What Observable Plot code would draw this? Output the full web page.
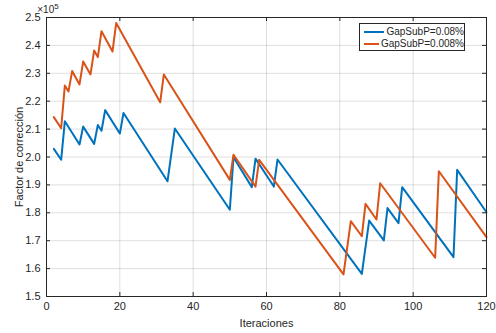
<!DOCTYPE html>
<html>
<head>
<meta charset="utf-8">
<script src="https://cdn.jsdelivr.net/npm/d3@7"></script>
<script src="https://cdn.jsdelivr.net/npm/@observablehq/plot@0.6"></script>
<style>
  html, body { margin: 0; padding: 0; background: #fff; }
  #chart { position: relative; width: 496px; height: 333px; font-family: "Liberation Sans", Arial, sans-serif; }
  #legend {
    position: absolute; left: 359px; top: 23px; width: 104px; height: 26px;
    border: 1px solid #262626; background: #fff; font-size: 10px; color: #262626;
  }
  #legend .row { display: flex; align-items: center; height: 11px; margin-top: 1px; }
  #legend .row:first-child { margin-top: 2px; }
  #legend .sw { width: 22px; height: 2px; margin-left: 4px; margin-right: 2px; }
</style>
</head>
<body>
<div id="chart"></div>
<script>
// Correction factor per iteration for two sub-problem gap tolerances
const iterBlue = [2, 4, 5, 9, 10, 13, 14, 15, 16, 20, 21, 33, 35, 50, 51, 56, 57, 62, 63, 86, 88, 92, 93, 96, 97, 111, 112, 120];
const factorBlue = [202900, 199000, 212800, 204500, 210900, 204700, 211500, 209400, 216800, 208400, 215800, 191300, 210200, 181100, 199900, 189200, 199400, 189400, 199100, 158100, 177200, 170100, 181700, 176300, 189200, 164100, 195400, 180200];

const iterOrange = [2, 4, 5, 6, 7, 9, 10, 12, 13, 14, 15, 18, 19, 31, 32, 50, 51, 57, 58, 81, 83, 86, 87, 90, 91, 106, 107, 120];
const factorOrange = [214300, 210300, 225600, 223500, 230800, 226000, 234200, 229600, 238200, 235800, 245100, 237800, 248000, 219600, 229600, 191800, 200800, 189400, 199000, 157900, 177000, 171600, 183200, 177600, 190600, 163900, 194900, 171300];

const seriesNames = ["GapSubP=0.08%", "GapSubP=0.008%"];
const seriesColors = ["#0072BD", "#D95319"];

const xTicks = [0, 20, 40, 60, 80, 100, 120];
const yTicks = [150000, 160000, 170000, 180000, 190000, 200000, 210000, 220000, 230000, 240000, 250000];

const rows = [
  ...iterBlue.map((it, i) => ({iter: it, factor: factorBlue[i], series: seriesNames[0]})),
  ...iterOrange.map((it, i) => ({iter: it, factor: factorOrange[i], series: seriesNames[1]}))
];

const W = 496, H = 333;
const mTop = 17, mRight = 10, mBottom = 37, mLeft = 46;
const innerH = H - mTop - mBottom;
const innerW = W - mLeft - mRight;
const tickLen = 4;
const axisColor = "#262626";

const chart = Plot.plot({
  width: W,
  height: H,
  marginTop: mTop,
  marginRight: mRight,
  marginBottom: mBottom,
  marginLeft: mLeft,
  style: {fontFamily: "'Liberation Sans', Arial, sans-serif", fontSize: "11px", color: axisColor, background: "#fff"},
  x: {domain: [0, 120]},
  y: {domain: [150000, 250000]},
  color: {domain: seriesNames, range: seriesColors},
  marks: [
    Plot.gridX(xTicks, {stroke: "#000", strokeOpacity: 0.13}),
    Plot.gridY(yTicks, {stroke: "#000", strokeOpacity: 0.13}),
    Plot.lineY(rows, {x: "iter", y: "factor", z: "series", stroke: "series", strokeWidth: 2}),
    // inward tick marks on all four sides
    Plot.tickX(xTicks, {x: d => d, insetTop: innerH - tickLen, stroke: axisColor}),
    Plot.tickX(xTicks, {x: d => d, insetBottom: innerH - tickLen, stroke: axisColor}),
    Plot.tickY(yTicks, {y: d => d, insetRight: innerW - tickLen, stroke: axisColor}),
    Plot.tickY(yTicks, {y: d => d, insetLeft: innerW - tickLen, stroke: axisColor}),
    Plot.frame({stroke: axisColor, strokeWidth: 1}),
    Plot.axisX(xTicks, {
      tickSize: 0, tickPadding: 6, fontSize: 11, fill: axisColor,
      label: "Iteraciones", labelAnchor: "center", labelOffset: 30, labelArrow: "none"
    }),
    Plot.axisY(yTicks, {
      tickSize: 0, tickPadding: 6, fontSize: 11, fill: axisColor,
      tickFormat: d => (d / 1e5).toFixed(1),
      label: "Factor de corrección", labelAnchor: "center", labelOffset: 31, labelArrow: "none"
    })
  ]
});

document.getElementById("chart").appendChild(chart);

// exponent marker above the y axis
const svg = d3.select(chart);
const ex = svg.append("text")
  .attr("x", mLeft + 2)
  .attr("y", mTop - 4)
  .attr("fill", "#262626")
  .attr("font-size", 10)
  .attr("font-family", "'Liberation Sans', Arial, sans-serif");
ex.append("tspan").text("×10");
ex.append("tspan").attr("font-size", 8).attr("dy", -4).text("5");

// legend box
const legend = d3.select("#chart").append("div").attr("id", "legend");
seriesNames.forEach((name, i) => {
  const row = legend.append("div").attr("class", "row");
  row.append("div").attr("class", "sw").style("background", seriesColors[i]);
  row.append("span").text(name);
});
</script>
</body>
</html>
